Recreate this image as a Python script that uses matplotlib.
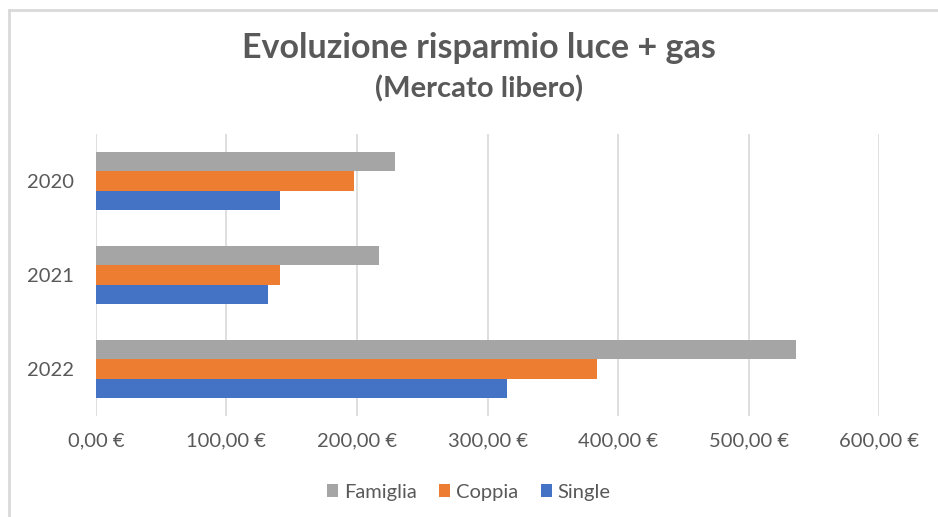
import numpy as np
import matplotlib.pyplot as plt
from matplotlib.lines import Line2D

# dati
anni = ["2020", "2021", "2022"]
famiglia = [229, 217, 536]
coppia = [198, 141, 384]
single = [141, 132, 315]
tick_valori = [0, 100, 200, 300, 400, 500, 600]
tick_etichette = ["0,00 €", "100,00 €", "200,00 €", "300,00 €",
                  "400,00 €", "500,00 €", "600,00 €"]

GRIGIO = "#a5a5a5"
ARANCIO = "#ed7d31"
BLU = "#4472c4"
TESTO = "#595959"

plt.rcParams['font.family'] = ['Lato', 'DejaVu Sans']


def main():
    fig = plt.figure(figsize=(9.38, 5.17), dpi=100)
    ax = fig.add_axes([0.1023, 0.1954, 0.835, 0.5455])

    y = np.arange(len(anni))
    h = 0.207

    ax.barh(y - h, famiglia, height=h, color=GRIGIO, label="Famiglia", zorder=3)
    ax.barh(y, coppia, height=h, color=ARANCIO, label="Coppia", zorder=3)
    ax.barh(y + h, single, height=h, color=BLU, label="Single", zorder=3)

    ax.set_ylim(2.5, -0.5)
    ax.set_xlim(0, 600)
    ax.set_yticks(y)
    ax.set_yticklabels(anni)
    ax.set_xticks(tick_valori)
    ax.set_xticklabels(tick_etichette)

    ax.tick_params(axis='both', length=0, labelsize=14.5, colors=TESTO)
    ax.tick_params(axis='x', pad=12)
    ax.tick_params(axis='y', pad=16)
    ax.grid(axis='x', color="#d9d9d9", linewidth=1.2, zorder=0)
    for s in ax.spines.values():
        s.set_visible(False)

    fig.text(0.511, 0.907, "Evoluzione risparmio luce + gas", ha='center',
             va='center', fontsize=24.5, fontweight='bold', color=TESTO)
    fig.text(0.511, 0.828, "(Mercato libero)", ha='center', va='center',
             fontsize=21, fontweight='bold', color=TESTO)

    leg = fig.legend(loc='center', bbox_to_anchor=(0.5, 0.048), ncol=3,
                     frameon=False, fontsize=14.5, handlelength=0.55,
                     handleheight=0.55, handletextpad=0.3, columnspacing=1.1)
    for t in leg.get_texts():
        t.set_color(TESTO)

    # bordo del grafico (solo sinistra e sopra visibili)
    fig.add_artist(Line2D([9 / 938, 9 / 938], [0, 1 - 10 / 517],
                          color="#d9d9d9", linewidth=2))
    fig.add_artist(Line2D([9 / 938, 1], [1 - 10 / 517, 1 - 10 / 517],
                          color="#d9d9d9", linewidth=2))

    fig.savefig("out.png", dpi=100)


if __name__ == "__main__":
    main()
